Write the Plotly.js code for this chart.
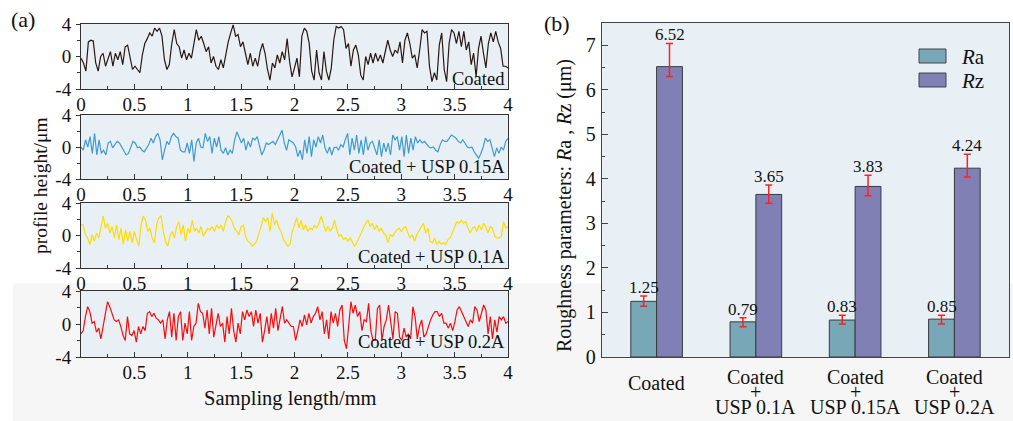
<!DOCTYPE html>
<html><head><meta charset="utf-8">
<script src="https://cdn.plot.ly/plotly-3.0.1.min.js"></script>
<style>html,body{margin:0;padding:0;background:#fff}#chart{width:1013px;height:421px}</style>
</head><body><div id="chart"></div>
<script>
// ---- Panel (a): surface profiles (height, µm), sampled evenly along 0–4 mm ----
const coatedProfile = [-0.2,-0.8,-1.8,1.8,2.0,1.9,-0.8,-1.8,0,0.4,-1.2,-0.2,0.6,-1.2,0.4,-0.4,0.6,-1,1.2,1.4,-0.2,-1.6,-1.2,-1.6,-2,0.2,1.6,2.2,2.9,2.5,3.5,3.1,3.5,2.5,-0.4,-1.6,-1,1.6,3.3,1.6,1.2,-0.2,0.8,-0.4,0.4,-0.2,1.4,3.3,2.0,2.5,1.6,0.6,1.2,-0.8,0,-1.2,-1.6,-0.4,-1.4,0.2,1.8,2.9,3.9,2.5,2.7,1.2,1.8,0.4,-1,0.4,-1.2,-0.2,-1.2,0.6,1.6,0.4,-1.6,-2.9,-0.8,-1.4,0.2,-0.8,0.6,-0.4,2.2,-0.6,-2.5,-1.4,-0.2,-2.5,2.5,3.5,3.1,1.6,-1.8,-2.9,0.8,-2,-2.9,0.6,-1.8,-2.9,-1.4,2.0,3.7,3.5,3.7,3.3,1.0,1.6,-1.2,0.8,1.4,0.2,-2.3,-2.9,0,-1,0.4,-0.8,0.4,-0.6,0.2,-0.8,0.6,2.0,0.8,0,0.8,0.4,1.8,-0.8,2.0,2.9,1.6,-0.2,0.2,-1.4,0.8,3.3,2.9,3.1,-1.2,-3.1,-2,-2.9,1.4,2.9,-1.6,-3.1,1.6,3.3,2.9,1.6,3.1,1.2,3.1,0.8,1.8,-1,0.4,-2.5,1.0,2.5,0.4,-1.4,1.6,2.9,1.8,3.1,1.8,1.0,-1.2,-1.2,-1.4];
const usp015Profile = [0,-0.4,0.9,0,1.3,-0.8,1.7,-1,0.9,-0.8,-0.4,-1,0.5,0.7,-0.1,0.3,0.7,0.5,0,-0.6,-1,-0.8,0,0.7,0.5,-0.1,0,-0.4,-0.6,-0.1,0.3,1.1,0.5,1.3,1.7,0.9,-1.6,-0.4,0.7,0.3,1.3,1.7,1.3,1.1,-0.4,-0.6,-0.6,0.5,-0.8,0.9,-1.8,0.5,1.1,0,-0.1,1.7,0.7,1.3,-0.8,1.1,0,1.3,-0.4,-0.8,-0.1,-1,-0.4,-0.8,0.9,1.9,1.3,0.5,1.1,-0.4,0.7,0,1.1,0.9,1.3,0,-1,-0.4,0.5,0.3,0.5,0.7,0.3,0.9,1.3,2.1,0.5,-0.4,0.9,0.7,0.5,0,-1.2,-0.4,-1.6,0.9,-0.8,1.3,-1.2,0.9,0,1.3,0.5,1.5,-0.1,-0.8,0,-1,-0.1,0,-0.4,0.3,0,0.9,1.7,-1,1.1,-0.4,1.5,-0.8,0.9,-1,1.3,-0.4,0.5,0.7,-0.1,-1,0.9,-1.2,0.5,-0.6,0.5,-1,1.5,0.9,1.3,-0.4,1.3,-1.2,1.5,-0.8,1.1,-0.4,1.3,0.5,0.9,0.5,0.7,0.3,0,-0.1,0,-0.4,-0.6,0.3,0.9,0.7,0.7,1.1,1.5,1.3,1.1,0.7,0.5,0.9,0.5,0,-0.1,0,-0.6,-1,-1.4,-0.8,0,1.1,0.7,0.9,0,-1.2,-0.1,-0.8,0,-0.4,0.7,1.1];
const usp01Profile = [1.3,1.3,0.1,-0.3,-1.1,0.1,-0.7,0.3,-0.3,1.3,2.4,0.9,1.5,0.3,1.1,-0.3,1.3,-0.5,0.9,-1.1,0.7,-0.7,0.5,-0.9,0.5,-0.5,-1.3,1.3,2.4,1.9,0.5,0.9,-0.3,-0.9,1.3,2.2,2.4,0.5,-0.7,-1.3,-0.1,0.5,-0.3,1.1,1.7,0.1,1.3,-0.7,0.9,0.3,1.9,0.5,0.9,0.3,1.1,-0.1,0.5,0.9,0.7,1.1,0.5,1.3,0.9,1.3,0.5,1.7,2.4,2.2,1.7,0.9,0.5,0.1,1.1,1.3,-0.1,-0.7,-0.9,-1.3,-1.1,-0.7,0.3,1.1,2.2,1.7,2.2,0.5,2.8,1.3,1.9,0.9,0.5,-0.5,-0.9,-1.3,-1.1,0.5,1.3,2.2,0.9,1.9,0.7,1.3,0.5,0.9,0.7,1.3,0.9,1.5,2.4,1.3,0.5,1.1,0.5,0.9,1.9,0.7,-0.1,0.1,-0.5,-0.3,-0.7,-0.3,-0.9,-1.3,-0.9,-0.3,0.5,0.9,1.5,1.9,1.1,1.5,0.7,1.3,0.5,0.9,0.3,0.1,-0.9,0.1,-0.1,0.3,0.7,0.9,0.5,0.9,1.1,0.3,-0.3,0.1,-0.7,0.1,0.7,1.1,1.5,0.3,0.9,-0.7,-0.9,-0.3,-1.1,-0.7,-1.1,-0.9,-1.1,-0.5,-0.3,0.3,1.1,1.7,1.5,1.9,1.5,1.7,0.9,0.3,0.9,1.1,0.5,1.3,0.7,1.5,1.1,0.3,1.1,0.9,-0.1,-0.3,-0.3,-0.1,1.7,0.9,1.1];
const usp02Profile = [-1.2,-0.8,0.9,2.1,1.5,0.1,0.3,-1,-0.5,-1.8,-0.3,1.5,2.7,2.1,1.3,0.5,0.3,0.5,-0.3,-1.4,-2,0.9,-1.2,-1.4,-0.8,-2.2,-0.3,-1.2,-0.3,-0.8,1.3,1.5,0.9,1.3,0.7,0.5,0.1,0.5,-1.8,0.5,1.5,-1.6,1.3,-2,0.9,1.5,-2,0.1,-1.2,1.5,-2,-0.3,0.1,2.5,1.5,1.3,-0.5,1.7,-1.2,1.9,-1.6,0.1,1.3,-0.3,0.1,-2.2,0.9,-1.2,1.9,-0.8,-2.2,0.1,-1.2,1.5,0.5,1.7,0.9,1.5,-0.3,1.7,0.1,1.3,-2.2,-0.8,0.9,-1.2,1.3,-0.5,1.9,-0.8,0.9,2.1,0.1,0.5,0.1,-0.3,-0.3,-2,-0.8,0.5,-0.3,1.1,-0.1,1.3,0.1,0.9,1.3,2.1,0.5,1.5,-1.2,0.5,-1.8,1.5,0.1,1.3,-0.3,1.7,2.3,-2,-3,-0.3,2.7,1.3,2.3,0.9,1.5,-0.8,0.5,0.3,2.5,-0.8,-2,-2,1.9,2.3,-2,-0.3,0.5,2.3,0.5,-1.8,1.5,1.3,-1.6,-2,-0.5,-1.6,-1.2,-1.8,2.1,0.9,-1.8,-0.3,0.5,-1.6,-1.2,-0.3,0.5,1.1,1.5,1.5,0.9,1.3,0.1,0.1,-0.5,0.1,-0.8,0.3,1.7,2.1,1.5,0.9,0.1,-0.3,0.5,0.1,2.1,1.7,0.3,1.5,2.3,1.7,-1.2,0.9,-1.8,0.5,-1,0.9,0.5,0.9,0.1,0.3];
const profileSeries = [coatedProfile, usp015Profile, usp01Profile, usp02Profile];
const profileLabels = ['Coated', 'Coated + USP 0.15A', 'Coated + USP 0.1A', 'Coated + USP 0.2A'];
const profileColors = ['#2b1712', '#3f9bd0', '#ffdc00', '#ff0a0a'];
const xTickVals = [0, 0.5, 1, 1.5, 2, 2.5, 3, 3.5, 4];
const xTickText = ['0', '0.5', '1', '1.5', '2', '2.5', '3', '3.5', '4'];
const yTickVals = [-4, 0, 4];
const yTickText = ['-4', '0', '4'];

// ---- Panel (b): roughness parameters ----
const categories = ['Coated', 'Coated + USP 0.1A', 'Coated + USP 0.15A', 'Coated + USP 0.2A'];
const categoryLines = [['Coated'], ['Coated', '+', 'USP 0.1A'], ['Coated', '+', 'USP 0.15A'], ['Coated', '+', 'USP 0.2A']];
const seriesNames = ['<i>R</i>a', '<i>R</i>z'];
const raValues = [1.25, 0.79, 0.83, 0.85];
const rzValues = [6.52, 3.65, 3.83, 4.24];
const raErrPlus = [0.12, 0.09, 0.11, 0.09];
const raErrMinus = [0.11, 0.11, 0.09, 0.11];
const rzErrPlus = [0.52, 0.21, 0.25, 0.31];
const rzErrMinus = [0.22, 0.2, 0.21, 0.2];
const raColor = '#78a7b8', rzColor = '#8080b5';

const FONT = 'Liberation Serif, Times New Roman, serif';
const W = 1013, H = 421;
const px = v => v / W;
const py = v => 1 - v / H;
const INK = '#111';

const aLeft = 81, aRight = 508;
const aBoxes = [[24, 89], [115, 179], [203, 268], [291, 357]];
const labelFrac = [0.15, 0.18, 0.17, 0.23];
const PLOTBG = '#e8f0f6';

const traces = [];
const layout = {
  width: W, height: H,
  margin: {l: 0, r: 0, t: 0, b: 0},
  paper_bgcolor: '#ffffff',
  plot_bgcolor: 'rgba(0,0,0,0)',
  font: {family: FONT, size: 18, color: INK},
  showlegend: false,
  barmode: 'group', bargap: 0.48, bargroupgap: 0,
  annotations: [], shapes: []
};

// light gray lower band, then plot backgrounds above it
layout.shapes.push({type: 'rect', xref: 'paper', yref: 'paper', x0: px(13), x1: 1, y0: 0, y1: py(283),
  fillcolor: '#f6f6f6', line: {width: 0}, layer: 'below'});
aBoxes.forEach(b => layout.shapes.push({type: 'rect', xref: 'paper', yref: 'paper', x0: px(aLeft), x1: px(aRight),
  y0: py(b[1]), y1: py(b[0]), fillcolor: PLOTBG, line: {width: 0}, layer: 'below'}));
layout.shapes.push({type: 'rect', xref: 'paper', yref: 'paper', x0: px(602), x1: px(1009), y0: py(357), y1: py(23),
  fillcolor: PLOTBG, line: {width: 0}, layer: 'below'});

profileSeries.forEach((ys, i) => {
  const n = i + 1, s = n === 1 ? '' : String(n);
  const xs = ys.map((_, k) => 4 * k / (ys.length - 1));
  traces.push({type: 'scatter', mode: 'lines', x: xs, y: ys, xaxis: 'x' + s, yaxis: 'y' + s,
    line: {color: profileColors[i], width: 1.2}, showlegend: false, hoverinfo: 'skip'});
  const xv = i === 3 ? xTickVals.slice(1) : xTickVals;
  const xt = i === 3 ? xTickText.slice(1) : xTickText;
  layout['xaxis' + s] = {
    domain: [px(aLeft), px(aRight)], anchor: 'y' + s, range: [0, 4],
    tickmode: 'array', tickvals: xv, ticktext: xt, ticks: 'inside', ticklen: 5, tickcolor: '#333', tickwidth: 1,
    minor: {tickmode: 'array', tickvals: [0.25, 0.75, 1.25, 1.75, 2.25, 2.75, 3.25, 3.75], ticks: 'inside', ticklen: 3, tickcolor: '#333'},
    showline: true, linecolor: '#333', linewidth: 1, mirror: true, showgrid: false, zeroline: false,
    tickfont: {family: FONT, size: 19, color: INK}, ticklabelstandoff: -2, fixedrange: true
  };
  layout['yaxis' + s] = {
    domain: [py(aBoxes[i][1]), py(aBoxes[i][0])], anchor: 'x' + s, range: [-4, 4],
    tickmode: 'array', tickvals: yTickVals, ticktext: yTickText, ticks: 'outside', ticklen: 4, tickcolor: '#333',
    minor: {tickmode: 'array', tickvals: [-2, 2], ticks: 'outside', ticklen: 3, tickcolor: '#333'},
    showline: true, linecolor: '#333', linewidth: 1, mirror: true, showgrid: false, zeroline: false,
    tickfont: {family: FONT, size: 19, color: INK}, ticklabelstandoff: 1, fixedrange: true
  };
  layout.annotations.push({xref: 'x' + s + ' domain', yref: 'y' + s + ' domain',
    x: 0.997, y: labelFrac[i], xanchor: 'right', yanchor: 'middle', showarrow: false,
    text: profileLabels[i], font: {family: FONT, size: 18.5, color: INK}});
});

// panel (b) bars
const errStyle = {color: '#ff2020', thickness: 1.5, width: 3.5};
traces.push({type: 'bar', name: seriesNames[0], x: categories, y: raValues, xaxis: 'x5', yaxis: 'y5',
  marker: {color: raColor, line: {color: '#3a3a3a', width: 1}},
  error_y: Object.assign({type: 'data', symmetric: false, array: raErrPlus, arrayminus: raErrMinus}, errStyle)});
traces.push({type: 'bar', name: seriesNames[1], x: categories, y: rzValues, xaxis: 'x5', yaxis: 'y5',
  marker: {color: rzColor, line: {color: '#3a3a3a', width: 1}},
  error_y: Object.assign({type: 'data', symmetric: false, array: rzErrPlus, arrayminus: rzErrMinus}, errStyle)});

layout.xaxis5 = {domain: [px(602), px(1009)], anchor: 'y5', type: 'category', categoryarray: categories,
  range: [-0.55, 3.55], showticklabels: false, ticks: '', showline: true, linecolor: '#444', linewidth: 1.3, mirror: true,
  showgrid: false, zeroline: false, fixedrange: true};
layout.yaxis5 = {domain: [py(357), py(23)], anchor: 'x5', range: [0, 7.5], dtick: 1, tick0: 0,
  ticks: 'inside', ticklen: 6, tickcolor: '#444', minor: {dtick: 0.5, ticks: 'inside', ticklen: 3, tickcolor: '#444'},
  showline: true, linecolor: '#444', linewidth: 1.3, mirror: true, showgrid: false, zeroline: false,
  tickfont: {family: FONT, size: 20, color: INK}, ticklabelstandoff: 1, fixedrange: true};

// drawn legend (swatches + labels)
[[raColor, 56], [rzColor, 80]].forEach((it, k) => {
  layout.shapes.push({type: 'rect', xref: 'paper', yref: 'paper', x0: px(919), x1: px(946), y0: py(it[1] + 7), y1: py(it[1] - 7),
    fillcolor: it[0], line: {color: '#444', width: 1}});
  layout.annotations.push({xref: 'paper', yref: 'paper', x: px(959), y: py(it[1] + 1), xanchor: 'left', yanchor: 'middle',
    showarrow: false, text: seriesNames[k], font: {family: FONT, size: 21, color: INK}});
});

// value labels over error bars and category labels
const halfBar = 0.13;
categories.forEach((c, i) => {
  layout.annotations.push({xref: 'x5', yref: 'y5', x: i - halfBar, y: raValues[i] + raErrPlus[i], yanchor: 'bottom',
    showarrow: false, text: raValues[i].toFixed(2), font: {family: FONT, size: 17, color: INK}, yshift: -3});
  layout.annotations.push({xref: 'x5', yref: 'y5', x: i + halfBar, y: rzValues[i] + rzErrPlus[i], yanchor: 'bottom',
    showarrow: false, text: rzValues[i].toFixed(2), font: {family: FONT, size: 17, color: INK}, yshift: -3});
  const lines = categoryLines[i];
  const ys = lines.length === 1 ? [383] : [377, 392, 407];
  lines.forEach((t, j) => layout.annotations.push({xref: 'x5', yref: 'paper', x: i, y: py(ys[j]), yanchor: 'middle',
    showarrow: false, text: t, font: {family: FONT, size: 20, color: INK}}));
});

// panel titles / axis titles
layout.annotations.push({xref: 'paper', yref: 'paper', x: px(23), y: py(19), xanchor: 'center', yanchor: 'middle',
  showarrow: false, text: '(a)', font: {family: FONT, size: 22, color: INK}});
layout.annotations.push({xref: 'paper', yref: 'paper', x: px(557), y: py(24), xanchor: 'center', yanchor: 'middle',
  showarrow: false, text: '(b)', font: {family: FONT, size: 22, color: INK}});
layout.annotations.push({xref: 'paper', yref: 'paper', x: px(290), y: py(398), xanchor: 'center', yanchor: 'middle',
  showarrow: false, text: 'Sampling length/mm', font: {family: FONT, size: 20.5, color: INK}});
layout.annotations.push({xref: 'paper', yref: 'paper', x: px(41), y: py(186), xanchor: 'center', yanchor: 'middle',
  showarrow: false, textangle: -90, text: 'profile height/μm', font: {family: FONT, size: 19.5, color: INK}});
layout.annotations.push({xref: 'paper', yref: 'paper', x: px(564), y: py(206), xanchor: 'center', yanchor: 'middle',
  showarrow: false, textangle: -90, text: 'Roughness parameters: <i>R</i>a , <i>R</i>z (μm)', font: {family: FONT, size: 20, color: INK}});

Plotly.newPlot('chart', traces, layout, {displayModeBar: false, staticPlot: true});
</script></body></html>
